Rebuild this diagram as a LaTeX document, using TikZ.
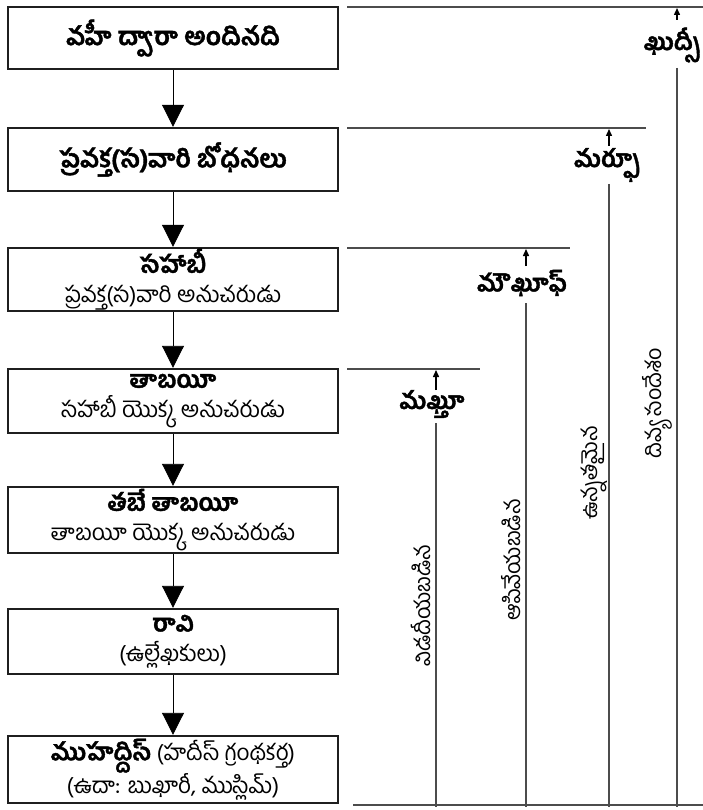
\documentclass[tikz,border=0pt]{standalone}
\usepackage{fontspec}
\newfontfamily\tel[Script=Telugu,BoldFeatures={FakeBold=1.6}]{Hind Guntur}
\usetikzlibrary{arrows.meta}
\begin{document}
\begin{tikzpicture}[x=1pt,y=-1pt,
  box/.style={draw=black!88, line width=2.4pt, minimum width=330pt, inner sep=0pt, align=center, font=\tel\fontsize{22.5}{30}\selectfont},
  flow/.style={line width=0.9pt, -{Triangle[width=22pt,length=22pt]}},
  lvl/.style={draw=black!70, line width=1.1pt},
  vline/.style={draw=black!70, line width=1.1pt},
  uparrow/.style={line width=1.4pt, -{Triangle[width=6pt,length=7pt]}},
  lab/.style={font=\tel\bfseries\fontsize{24}{28}\selectfont, inner sep=1pt},
  rot/.style={font=\tel\fontsize{21.5}{24}\selectfont, rotate=90, inner sep=1pt}]

\useasboundingbox[fill=white] (0,0) rectangle (703,810);

% left column boxes
\node[box, minimum height=62pt] (b1) at (173,38) {\bfseries\fontsize{25}{28}\selectfont వహీ ద్వారా అందినది};
\node[box, minimum height=63pt] (b2) at (173,159.5) {\bfseries\fontsize{25}{28}\selectfont ప్రవక్త(స)వారి బోధనలు};
\node[box, minimum height=63pt] (b3) at (173,279.5) {{\bfseries\fontsize{24}{30}\selectfont సహాబీ}\\ ప్రవక్త(స)వారి అనుచరుడు};
\node[box, minimum height=64pt] (b4) at (173,401) {{\bfseries\fontsize{24}{30}\selectfont తాబయీ}\\ సహాబీ యొక్క అనుచరుడు};
\node[box, minimum height=66pt] (b5) at (173,520) {{\bfseries\fontsize{24}{30}\selectfont తబే తాబయీ}\\ తాబయీ యొక్క అనుచరుడు};
\node[box, minimum height=65pt] (b6) at (173,641.5) {{\bfseries\fontsize{24}{30}\selectfont రావి}\\ (ఉల్లేఖకులు)};
\node[box, minimum height=67pt] (b7) at (173,769.5) {{\bfseries\fontsize{24}{30}\selectfont ముహద్దిస్} (హదీస్ గ్రంథకర్త)\\ (ఉదా: బుఖారీ, ముస్లిమ్)};

\draw[flow] (b1) -- (b2);
\draw[flow] (b2) -- (b3);
\draw[flow] (b3) -- (b4);
\draw[flow] (b4) -- (b5);
\draw[flow] (b5) -- (b6);
\draw[flow] (b6) -- (b7);

% level lines
\coordinate (h1s) at (347,7);   \coordinate (h1e) at (703,7);
\coordinate (h2s) at (347,128); \coordinate (h2e) at (646,128);
\coordinate (h3s) at (347,248); \coordinate (h3e) at (570,248);
\coordinate (h4s) at (347,369); \coordinate (h4e) at (480,369);
\coordinate (bs) at (353,805);  \coordinate (be) at (703,805);
\draw[lvl] (h1s) -- (h1e);
\draw[lvl] (h2s) -- (h2e);
\draw[lvl] (h3s) -- (h3e);
\draw[lvl] (h4s) -- (h4e);
\draw[lvl] (bs) -- (be);

% labels
\node[lab] (qudsi) at (672,45) {ఖుద్సీ};
\node[lab] (marfu) at (607,165) {మర్ఫూ};
\node[lab] (mauquf) at (522,283) {మౌఖూఫ్};
\node[lab] (maqtu) at (432,404) {మఖ్తూ};

% arrows up
\coordinate (qa1) at (677,20); \coordinate (qa2) at (677,8);
\coordinate (ma1) at (609,146); \coordinate (ma2) at (609,129);
\coordinate (mq1) at (526,266); \coordinate (mq2) at (526,249);
\coordinate (mt1) at (436,390); \coordinate (mt2) at (436,370);
\draw[uparrow] (qa1) -- (qa2);
\draw[uparrow] (ma1) -- (ma2);
\draw[uparrow] (mq1) -- (mq2);
\draw[uparrow] (mt1) -- (mt2);

% vertical lines
\coordinate (qv1) at (677,68);  \coordinate (qv2) at (677,807);
\coordinate (mv1) at (609,184); \coordinate (mv2) at (609,807);
\coordinate (kv1) at (526,303); \coordinate (kv2) at (526,807);
\coordinate (tv1) at (436,423); \coordinate (tv2) at (436,807);
\draw[vline] (qv1) -- (qv2);
\draw[vline] (mv1) -- (mv2);
\draw[vline] (kv1) -- (kv2);
\draw[vline] (tv1) -- (tv2);

% rotated descriptions
\node[rot] (r1) at (421,606) {విడదీయబడిన};
\node[rot] (r2) at (511,560) {ఆపివేయబడిన};
\node[rot] (r3) at (594,473) {ఉన్నతమైన};
\node[rot] (r4) at (657,403) {దివ్య సందేశం};
\end{tikzpicture}
\end{document}
